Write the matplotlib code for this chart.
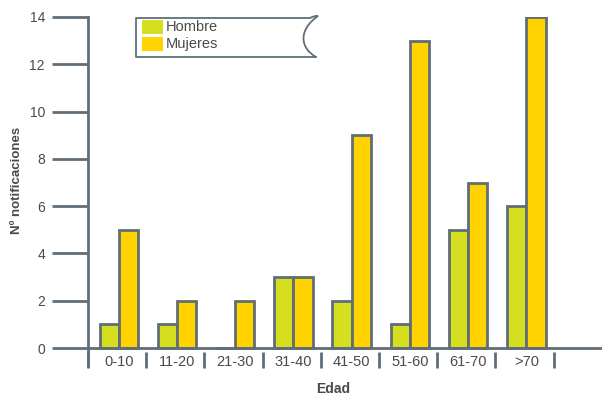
import numpy as np
import matplotlib.pyplot as plt
from matplotlib.patches import Rectangle, PathPatch
from matplotlib.path import Path
from matplotlib.lines import Line2D

plt.rcParams['font.family'] = ['Liberation Sans', 'DejaVu Sans']

# datos
grupos = ['0-10', '11-20', '21-30', '31-40', '41-50', '51-60', '61-70', '>70']
hombre = [1, 1, 0, 3, 2, 1, 5, 6]
mujeres = [5, 2, 2, 3, 9, 13, 7, 14]
yticks = [0, 2, 4, 6, 8, 10, 12, 14]

c_h = '#d5df1f'
c_m = '#ffd200'
gris = '#5f6e78'
texto = '#4a4a4a'

W, H = 604, 395
fig = plt.figure(figsize=(W / 100, H / 100), dpi=100)
ax = fig.add_axes([88 / W, 24.5 / H, 514 / W, 353.5 / H])

x = np.arange(len(grupos))
bw = 0.33
ax.bar(x - bw / 2 + 0.03, hombre, bw, color=c_h, edgecolor=gris, linewidth=2, zorder=3)
ax.bar(x + bw / 2 + 0.03, mujeres, bw, color=c_m, edgecolor=gris, linewidth=2, zorder=3)

ax.set_xlim(-0.5, 8.33)
ax.set_ylim(-0.95, 14)

for s in ['top', 'right', 'bottom']:
    ax.spines[s].set_visible(False)
ax.spines['left'].set_color(gris)
ax.spines['left'].set_linewidth(2)
ax.spines['left'].set_bounds(-0.72, 14)

# eje x dibujado a mano en y=0
ax.axhline(0, color=gris, lw=2, zorder=4)
ax.vlines(np.arange(len(grupos) + 1) - 0.5, -0.17, -0.85, color=gris, lw=2, clip_on=False)

ax.set_yticks(yticks)
ax.set_yticklabels([str(v) for v in yticks], color=texto, fontsize=10)
ax.tick_params(axis='y', length=26, width=2, color=gris, pad=5)
ax.set_xticks([])
for i, g in enumerate(grupos):
    ax.text(i + 0.03, -0.6, g, ha='center', va='center', fontsize=10.5, color=texto)

fig.text(333 / W, 1 - 389 / H, 'Edad', ha='center', va='center', fontsize=10,
         fontweight='bold', color=texto)
fig.text(17 / W, 1 - 180 / H, 'Nº notificaciones', ha='center', va='center',
         rotation=90, fontsize=9.5, fontweight='bold', color=texto)

# leyenda con borde curvo
def fp(px, py):
    return (px / W, 1 - py / H)

verts = [fp(310, 18), fp(136, 18), fp(136, 57), fp(316, 57)]
fig.add_artist(Line2D([v[0] for v in verts], [v[1] for v in verts],
                      color=gris, lw=1.3, transform=fig.transFigure))
curva = Path([fp(310, 18), fp(314, 16), fp(316, 16), fp(318, 16),
              fp(298, 30), fp(300, 48), fp(316, 57)],
             [Path.MOVETO, Path.CURVE3, Path.CURVE3, Path.LINETO,
              Path.CURVE4, Path.CURVE4, Path.CURVE4])
fig.add_artist(PathPatch(curva, fill=False, edgecolor=gris, lw=1.3,
                         transform=fig.transFigure))
for py, col, lab in [(20, c_h, 'Hombre'), (37, c_m, 'Mujeres')]:
    x0, y0 = fp(142, py + 14)
    fig.add_artist(Rectangle((x0, y0), 21 / W, 14 / H, facecolor=col,
                             edgecolor='none', transform=fig.transFigure))
    fig.text(166 / W, 1 - (py + 7) / H, lab, ha='left', va='center',
             fontsize=10.5, color=texto)

fig.savefig('out.png', dpi=100)
